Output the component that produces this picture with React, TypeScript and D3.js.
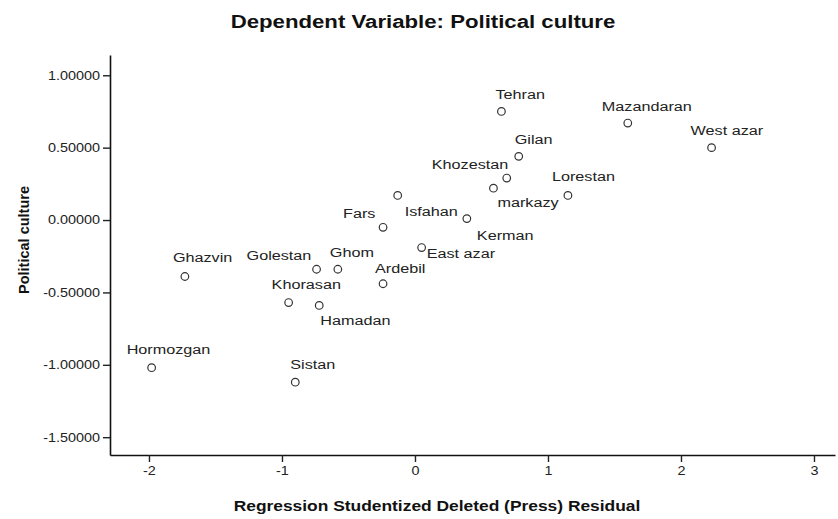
import { useEffect, useRef } from "react";
import * as d3 from "d3";

// provinces with (studentized deleted residual, political culture)
const provinces = [
  "Tehran", "Mazandaran", "West azar", "Gilan", "Khozestan", "markazy", "Lorestan",
  "Isfahan", "Fars", "Kerman", "East azar", "Ardebil", "Ghom", "Golestan",
  "Ghazvin", "Khorasan", "Hamadan", "Hormozgan", "Sistan",
];
const residuals = [
  0.65, 1.6, 2.23, 0.78, 0.69, 0.59, 1.15, -0.13, -0.24, 0.39, 0.05, -0.24, -0.58, -0.74,
  -1.73, -0.95, -0.72, -1.98, -0.9,
];
const culture = [
  0.75, 0.67, 0.5, 0.44, 0.29, 0.22, 0.17, 0.17, -0.05, 0.01, -0.19, -0.44, -0.34, -0.34,
  -0.39, -0.57, -0.59, -1.02, -1.12,
];
const xTicks = [-2, -1, 0, 1, 2, 3];
const yTicks = [1, 0.5, 0, -0.5, -1, -1.5];

// where each label sits relative to its marker (px)
const labelOffset: Record<string, [number, number]> = {
  Tehran: [-6, -12],
  Mazandaran: [-26, -12],
  "West azar": [-21, -13],
  Gilan: [-4, -12],
  Khozestan: [-75, -9],
  markazy: [4, 19],
  Lorestan: [-16, -14],
  Isfahan: [7, 21],
  Fars: [-40, -9],
  Kerman: [10, 21],
  "East azar": [5, 10],
  Ardebil: [-8, -11],
  Ghom: [-8, -12],
  Golestan: [-70, -9],
  Ghazvin: [-12, -14],
  Khorasan: [-17, -14],
  Hamadan: [1, 20],
  Hormozgan: [-25, -14],
  Sistan: [-5, -13],
};

const FONT = "'Liberation Sans', Arial, sans-serif";
const STRETCH = 1.2;

export default function App() {
  const svgRef = useRef<SVGSVGElement | null>(null);

  useEffect(() => {
    const width = 838;
    const height = 519;
    const plot = { left: 110, right: 835, top: 55, bottom: 455 };

    const svg = d3.select(svgRef.current);
    svg.selectAll("*").remove();
    svg.append("rect").attr("width", width).attr("height", height).attr("fill", "#fff");

    const x = d3.scaleLinear().domain([-2.293, 3.158]).range([plot.left, plot.right]);
    const y = d3.scaleLinear().domain([-1.623, 1.14]).range([plot.bottom, plot.top]);

    const data = provinces.map((name, i) => ({ name, res: residuals[i], val: culture[i] }));

    // axes
    const xAxis = svg
      .append("g")
      .attr("transform", `translate(0,${plot.bottom})`)
      .call(d3.axisBottom(x).tickValues(xTicks).tickSize(7).tickSizeOuter(0).tickFormat((d) => String(d)));
    const yAxis = svg
      .append("g")
      .attr("transform", `translate(${plot.left},0)`)
      .call(d3.axisLeft(y).tickValues(yTicks).tickSize(7).tickSizeOuter(0).tickFormat((d) => (d as number).toFixed(5)));

    [xAxis, yAxis].forEach((g) => {
      g.select(".domain").attr("stroke", "#111").attr("stroke-width", 1.6);
      g.selectAll(".tick line").attr("stroke", "#222").attr("stroke-width", 1.4);
      g.selectAll(".tick text")
        .attr("fill", "#222")
        .attr("font-family", FONT)
        .attr("font-size", 12);
    });
    xAxis.selectAll(".tick text").attr("y", 11).attr("transform", `scale(${STRETCH},1)`);
    yAxis.selectAll(".tick text").attr("x", 0).attr("dy", "0.32em")
      .attr("transform", `translate(-10,0) scale(${STRETCH},1)`);

    // markers
    svg
      .append("g")
      .selectAll("circle")
      .data(data)
      .join("circle")
      .attr("cx", (d) => x(d.res))
      .attr("cy", (d) => y(d.val))
      .attr("r", 3.8)
      .attr("fill", "none")
      .attr("stroke", "#333")
      .attr("stroke-width", 1.2);

    // point labels
    svg
      .append("g")
      .selectAll("text")
      .data(data)
      .join("text")
      .attr("transform", (d) => {
        const [dx, dy] = labelOffset[d.name];
        return `translate(${x(d.res) + dx},${y(d.val) + dy}) scale(${STRETCH},1)`;
      })
      .attr("font-family", FONT)
      .attr("font-size", 13.5)
      .attr("fill", "#222")
      .text((d) => d.name);

    // titles
    svg
      .append("text")
      .attr("transform", `translate(423,28) scale(${STRETCH},1)`)
      .attr("text-anchor", "middle")
      .attr("font-family", FONT)
      .attr("font-weight", "bold")
      .attr("font-size", 18.5)
      .attr("fill", "#111")
      .text("Dependent Variable: Political culture");

    svg
      .append("text")
      .attr("transform", `translate(437,511) scale(${STRETCH},1)`)
      .attr("text-anchor", "middle")
      .attr("font-family", FONT)
      .attr("font-weight", "bold")
      .attr("font-size", 14.5)
      .attr("fill", "#111")
      .text("Regression Studentized Deleted (Press) Residual");

    svg
      .append("text")
      .attr("transform", "translate(29,240) rotate(-90)")
      .attr("text-anchor", "middle")
      .attr("font-family", FONT)
      .attr("font-weight", "bold")
      .attr("font-size", 14.5)
      .attr("fill", "#111")
      .text("Political culture");
  }, []);

  return (
    <svg
      ref={svgRef}
      width={838}
      height={519}
      viewBox="0 0 838 519"
      style={{ position: "absolute", left: 0, top: 0 }}
      role="img"
    />
  );
}
